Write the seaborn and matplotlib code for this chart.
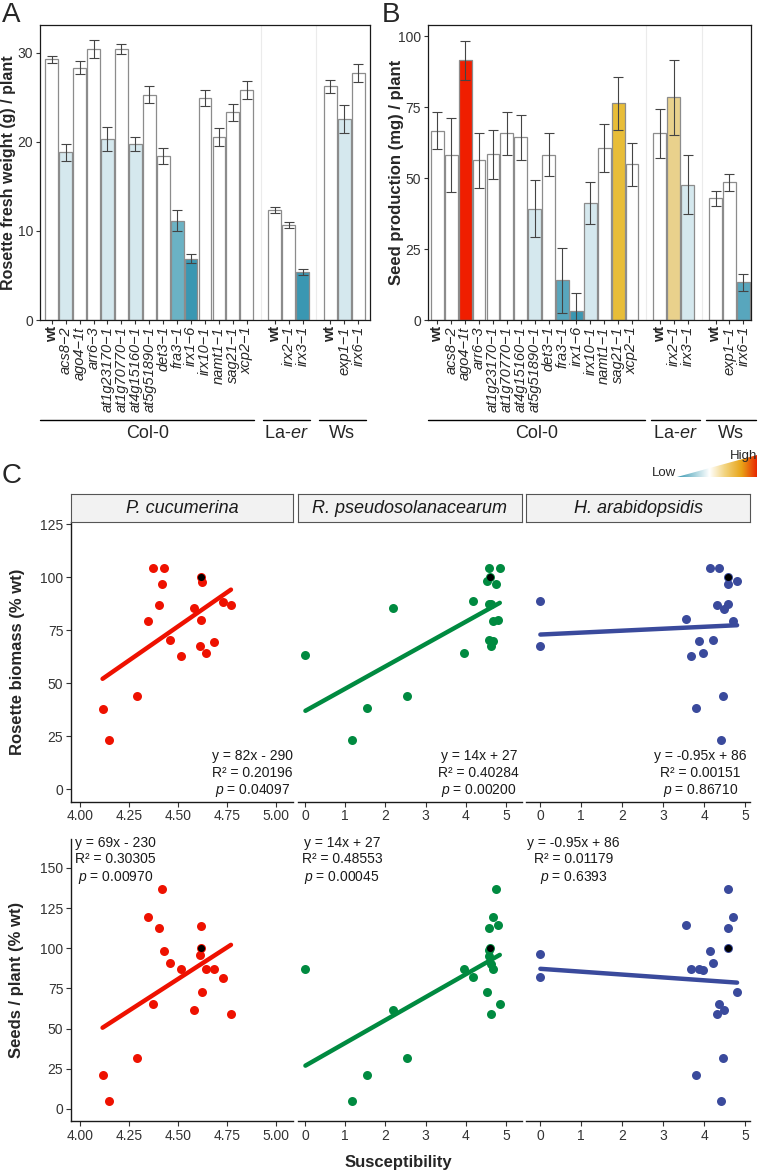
import numpy as np
import pandas as pd
import matplotlib
matplotlib.use("Agg")
import matplotlib.pyplot as plt
import matplotlib.transforms as mtransforms
from matplotlib.colors import LinearSegmentedColormap
from matplotlib.patches import Polygon
import seaborn as sns

sns.set_theme(style="white")
plt.rcParams['font.family'] = ['Liberation Sans', 'DejaVu Sans']
plt.rcParams['mathtext.fontset'] = 'custom'
plt.rcParams['mathtext.rm'] = 'Liberation Sans'
plt.rcParams['mathtext.it'] = 'Liberation Sans:italic'
plt.rcParams['mathtext.bf'] = 'Liberation Sans:bold'

# -----------------------------------------------------------
# Data, panels A and B
genotypes = ['wt', 'acs8−2', 'ago4−1t', 'arr6−3', 'at1g23170−1', 'at1g70770−1',
             'at4g15160−1', 'at5g51890−1', 'det3−1', 'fra3−1', 'irx1−6', 'irx10−1',
             'namt1−1', 'sag21−1', 'xcp2−1',
             'wt', 'irx2−1', 'irx3−1',
             'wt', 'exp1−1', 'irx6−1']
background = ['Col-0'] * 15 + ['La-er'] * 3 + ['Ws'] * 3
background_labels = {'Col-0': 'Col-0', 'La-er': 'La-$\\mathit{er}$', 'Ws': 'Ws'}

fresh_weight = [29.25, 18.8, 28.3, 30.4, 20.3, 30.4, 19.75, 25.3, 18.4, 11.15, 6.9,
                24.9, 20.5, 23.3, 25.8, 12.3, 10.65, 5.4, 26.2, 22.55, 27.7]
fresh_weight_se = [0.4, 1.0, 0.75, 1.0, 1.3, 0.6, 0.8, 1.0, 0.9, 1.15, 0.45,
                   0.9, 1.0, 0.95, 1.0, 0.35, 0.3, 0.35, 0.7, 1.55, 1.0]
seed_mg = [66.7, 58.0, 91.4, 56.2, 58.3, 65.7, 64.3, 39.2, 58.2, 14.0, 3.05,
           41.1, 60.6, 76.3, 54.8, 65.7, 78.4, 47.6, 42.8, 48.5, 13.3]
seed_mg_se = [6.5, 13.0, 7.0, 9.7, 8.7, 7.5, 8.0, 10.0, 7.5, 11.5, 6.6,
              7.4, 8.3, 9.4, 7.7, 8.6, 13.3, 10.4, 2.6, 3.0, 3.0]

# bar fills (low = teal, high = red)
W, LB, MT, DT = '#FFFFFF', '#D5E8EE', '#6BB2C4', '#3A97B2'
fresh_colors = [W, LB, W, W, LB, W, LB, W, W, MT, DT, W, W, W, W,
                W, W, DT, W, LB, W]
seed_colors = [W, W, '#F01E00', W, W, W, W, LB, W, '#58A6BD', DT, LB, W, '#E8BD38', W,
               W, '#E9D18C', LB, W, W, '#58A6BD']

# -----------------------------------------------------------
# Data, panel C (susceptibility vs % of wt), one array per column / row
pc_sus = [4.115, 4.148, 4.29, 4.348, 4.372, 4.405, 4.42, 4.43, 4.46, 4.515, 4.58,
          4.614, 4.616, 4.62, 4.645, 4.685, 4.73, 4.77]
pc_biomass = [38.1, 23.5, 43.9, 79.3, 104.3, 87.1, 97, 104.3, 70.5, 63, 85.7,
              67.7, 80, 97.7, 64.4, 69.5, 88.5, 87.1]
pc_seeds = [21.1, 5, 31.5, 119.3, 65.3, 112.7, 137, 98.4, 90.7, 87, 61.5,
            96.1, 114.1, 72.5, 86.8, 87.2, 81.8, 59]

rp_sus = [0.01, 1.16, 1.54, 2.185, 2.525, 3.95, 4.17, 4.525, 4.565, 4.58, 4.585,
          4.615, 4.63, 4.67, 4.685, 4.755, 4.795, 4.845]
rp_biomass = [63.1, 23.5, 38.2, 85.4, 44, 64.5, 88.7, 98, 70.5, 87.5, 104.3,
              87.2, 67.8, 69.7, 79.3, 97, 79.9, 104.3]
rp_seeds = [87.2, 5, 21.1, 61.5, 31.5, 87, 82, 72.5, 98.8, 112.7, 95.3,
            90.5, 59, 87.2, 119.3, 137, 114.4, 65.3]

ha_sus = [0.01, 0.01, 3.565, 3.685, 3.805, 3.875, 3.975, 4.145, 4.225, 4.305, 4.37,
          4.415, 4.46, 4.48, 4.575, 4.585, 4.70, 4.805]
ha_biomass = [88.7, 67.8, 80.2, 63, 38.2, 69.9, 64.5, 104.3, 70.5, 87.1, 104.3,
              23.5, 44, 85, 97, 87.4, 79.3, 98]
ha_seeds = [96.3, 82, 114.4, 87, 21.1, 87, 86.6, 98.4, 90.7, 59, 65.3,
            5, 31.5, 61.5, 112.7, 137, 119.3, 72.5]

wt_sus = [4.615, 4.61, 4.59]
wt_pct = 100

pathogens = ['P. cucumerina', 'R. pseudosolanacearum', 'H. arabidopsidis']
pathogen_colors = ['#EE1100', '#008A40', '#3A4A9C']
stats_biomass = ['y = 82x - 290\nR² = 0.20196\n$p$ = 0.04097',
                 'y = 14x + 27\nR² = 0.40284\n$p$ = 0.00200',
                 'y = -0.95x + 86\nR² = 0.00151\n$p$ = 0.86710']
stats_seeds = ['y = 69x - 230\nR² = 0.30305\n$p$ = 0.00970',
               'y = 14x + 27\nR² = 0.48553\n$p$ = 0.00045',
               'y = -0.95x + 86\nR² = 0.01179\n$p$ = 0.6393']

# -----------------------------------------------------------
FW, FH = 762, 1174
fig = plt.figure(figsize=(FW / 100, FH / 100), dpi=100)


def rect(l, t, r, b):
    return [l / FW, 1 - b / FH, (r - l) / FW, (b - t) / FH]


# bar slots: one empty slot between backgrounds
keys = [f"{bg}_{g}" for bg, g in zip(background, genotypes)]
order = []
for i, k in enumerate(keys):
    if i > 0 and background[i] != background[i - 1]:
        order.append(f"gap{i}")
    order.append(k)
slots = [order.index(k) for k in keys]
gap_slots = [i for i, k in enumerate(order) if k.startswith('gap')]


def bar_panel(ax, values, errors, colors, ylim, yticks, xlim, bracket_pad):
    df = pd.DataFrame({'key': keys, 'val': values})
    sns.barplot(data=df, x='key', y='val', order=order, hue='key',
                palette=dict(zip(keys, colors)), saturation=1, width=0.92,
                edgecolor='#8c8c8c', linewidth=0.9, errorbar=None, legend=False,
                ax=ax, zorder=2)
    ax.errorbar(slots, values, yerr=errors, fmt='none', ecolor='#444444',
                elinewidth=0.8, capsize=3.5, capthick=0.8, zorder=3)
    for g in gap_slots:
        ax.axvline(g, color='#ebebeb', lw=0.8, zorder=0)
    ax.set_xlim(*xlim)
    ax.set_ylim(*ylim)
    ax.set_yticks(yticks)
    ax.set_xticks(slots)
    ax.set_xticklabels(genotypes, rotation=90, fontsize=10.5)
    for lbl in ax.get_xticklabels():
        if lbl.get_text() == 'wt':
            lbl.set_fontweight('bold')
        else:
            lbl.set_fontstyle('italic')
    ax.tick_params(axis='y', labelsize=10, labelcolor='#333333', length=3,
                   width=0.8, left=True, color='#333333', pad=2)
    ax.tick_params(axis='x', length=3, width=0.8, bottom=True, color='#333333',
                   pad=1.5)
    ax.set_xlabel('')
    ax.set_ylabel('')
    for s in ax.spines.values():
        s.set_color('#1a1a1a')
        s.set_linewidth(0.9)
    # background brackets under the labels
    trans = mtransforms.blended_transform_factory(ax.transData, ax.transAxes)
    for bg in ['Col-0', 'La-er', 'Ws']:
        pos = [s for s, b in zip(slots, background) if b == bg]
        x0, x1 = pos[0] + bracket_pad[0], pos[-1] + bracket_pad[1]
        ax.plot([x0, x1], [-0.339, -0.339], color='black', lw=1.0,
                transform=trans, clip_on=False)
        ax.text((x0 + x1) / 2, -0.384, background_labels[bg], transform=trans,
                ha='center', va='center', fontsize=13)


axA = fig.add_axes(rect(40, 25, 370, 320))
bar_panel(axA, fresh_weight, fresh_weight_se, fresh_colors, (0, 33.1),
          [0, 10, 20, 30], (-0.84, 22.84), (-0.83, 0.55))
axB = fig.add_axes(rect(427.7, 25, 750.7, 320))
bar_panel(axB, seed_mg, seed_mg_se, seed_colors, (0, 103.9),
          [0, 25, 50, 75, 100], (-0.69, 22.53), (-0.65, 0.92))

fig.text(9 / FW, 1 - 172.5 / FH, 'Rosette fresh weight (g) / plant', rotation=90,
         ha='center', va='center', fontsize=11.5, fontweight='bold')
fig.text(396 / FW, 1 - 172.5 / FH, 'Seed production (mg) / plant', rotation=90,
         ha='center', va='center', fontsize=12, fontweight='bold')

fig.text(2 / FW, 1 - 22 / FH, 'A', fontsize=20, va='baseline')
fig.text(382 / FW, 1 - 22 / FH, 'B', fontsize=20, va='baseline')
fig.text(2 / FW, 1 - 483 / FH, 'C', fontsize=20, va='baseline')

# Low / High colour key
cmap = LinearSegmentedColormap.from_list(
    'lowhigh', ['#3A97B2', '#9ACCD8', '#FFFFFF', '#F2D27A', '#E8A317', '#E82000'])
axL = fig.add_axes(rect(676.7, 455, 757.3, 476.7))
im = axL.imshow(np.linspace(0, 1, 256).reshape(1, -1), aspect='auto', cmap=cmap,
                extent=[0, 1, 0, 1])
im.set_clip_path(Polygon([[0, 0], [1, 0], [1, 1]], transform=axL.transData))
axL.set_xlim(0, 1)
axL.set_ylim(0, 1)
axL.axis('off')
fig.text(676 / FW, 1 - 476.5 / FH, 'Low', ha='right', va='baseline', fontsize=9.5)
fig.text(757.5 / FW, 1 - 459.5 / FH, 'High', ha='right', va='baseline', fontsize=9.5)

# -----------------------------------------------------------
# Panel C
col_px = [(71, 293.3), (298.3, 521.7), (526, 750)]
row_px = [(522, 801.7), (839, 1121)]
xlims = [(3.954, 5.088), (-0.167, 5.39), (-0.34, 5.12)]
ylims = [(-5.8, 126), (-7.5, 168)]
yticks = [[0, 25, 50, 75, 100, 125], [0, 25, 50, 75, 100, 125, 150]]
sus = [pc_sus, rp_sus, ha_sus]
rows = [[pc_biomass, rp_biomass, ha_biomass], [pc_seeds, rp_seeds, ha_seeds]]
stats = [stats_biomass, stats_seeds]
stat_pos = [[(0.815, 0.098), (0.808, 0.098), (0.778, 0.098)],
            [(0.2, 0.922), (0.195, 0.922), (0.212, 0.922)]]

for r in range(2):
    for c in range(3):
        l, rr = col_px[c]
        t, b = row_px[r]
        ax = fig.add_axes(rect(l, t, rr, b))
        # the fit includes the wild-type reference point
        x_fit = list(sus[c]) + [wt_sus[c]]
        y_fit = list(rows[r][c]) + [wt_pct]
        sns.regplot(x=x_fit, y=y_fit, ax=ax, ci=None, color=pathogen_colors[c],
                    scatter_kws={'s': 42, 'linewidths': 0, 'alpha': 1},
                    line_kws={'lw': 3.2})
        ax.scatter([wt_sus[c]], [wt_pct], s=26, color='black', linewidths=0, zorder=5)
        ax.set_xlim(*xlims[c])
        ax.set_ylim(*ylims[r])
        if c == 0:
            ax.set_xticks([4.0, 4.25, 4.5, 4.75, 5.0])
            ax.set_xticklabels(['4.00', '4.25', '4.50', '4.75', '5.00'])
            ax.set_yticks(yticks[r])
        else:
            ax.set_xticks([0, 1, 2, 3, 4, 5])
            ax.set_yticks([])
            ax.spines['left'].set_visible(False)
        ax.spines['top'].set_visible(False)
        ax.spines['right'].set_visible(False)
        for s in ('left', 'bottom'):
            ax.spines[s].set_color('#1a1a1a')
            ax.spines[s].set_linewidth(1.0)
        ax.tick_params(labelsize=10, labelcolor='#333333', length=3.5, width=0.8,
                       color='#333333', bottom=True, left=(c == 0), pad=2)
        ax.set_xlabel('')
        ax.set_ylabel('')
        ax.text(stat_pos[r][c][0], stat_pos[r][c][1], stats[r][c],
                transform=ax.transAxes, ha='center', va='center',
                multialignment='center', fontsize=10, color='#1a1a1a')
        if r == 0:
            sax = fig.add_axes(rect(l, 494, rr, 522))
            sax.set_facecolor('#F2F2F2')
            sax.set_xticks([])
            sax.set_yticks([])
            for s in sax.spines.values():
                s.set_color('#555555')
                s.set_linewidth(0.8)
            sax.text(0.5, 0.47, pathogens[c], transform=sax.transAxes, ha='center',
                     va='center', fontsize=13, fontstyle='italic', color='#1a1a1a')

fig.text(18 / FW, 1 - 661.9 / FH, 'Rosette biomass (% wt)', rotation=90,
         ha='center', va='center', fontsize=12, fontweight='bold')
fig.text(17 / FW, 1 - 980 / FH, 'Seeds / plant (% wt)', rotation=90,
         ha='center', va='center', fontsize=12, fontweight='bold')
fig.text(398.5 / FW, 1 - 1162 / FH, 'Susceptibility', ha='center', va='center',
         fontsize=12, fontweight='bold')

fig.savefig('out.png', dpi=100)
